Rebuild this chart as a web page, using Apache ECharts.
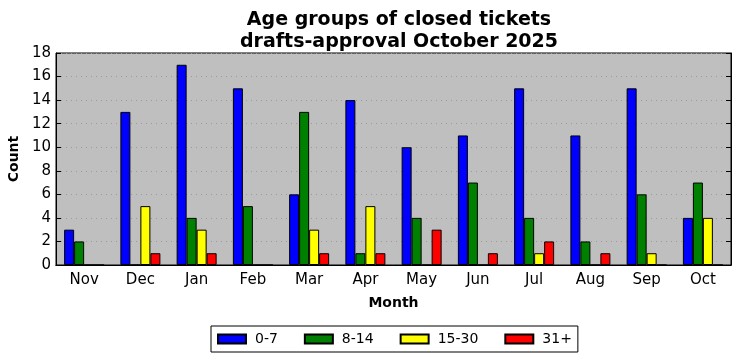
<!DOCTYPE html>
<html><head><meta charset="utf-8">
<script src="https://cdn.jsdelivr.net/npm/echarts@6/dist/echarts.min.js"></script>
<style>html,body{margin:0;padding:0;background:#fff}#c{width:741px;height:361px}</style>
</head><body><div id="c"></div>
<script>
const months = ['Nov','Dec','Jan','Feb','Mar','Apr','May','Jun','Jul','Aug','Sep','Oct'];
const s0_7   = [3,13,17,15,6,14,10,11,15,11,15,4];
const s8_14  = [2,0,4,5,13,1,4,7,4,2,6,7];
const s15_30 = [0,5,3,0,3,5,0,0,1,0,1,4];
const s31    = [0,1,1,0,1,1,3,1,2,1,0,0];
const seriesNames = ['0-7','8-14','15-30','31+'];
const colors = ['#0000ff','#008000','#ffff00','#ff0000'];
const yTicks = {min:0, max:18, interval:2};

const font = 'DejaVu Sans';
const chart = echarts.init(document.getElementById('c'), null, {renderer:'canvas'});
const data = [s0_7, s8_14, s15_30, s31];
chart.setOption({
  animation:false,
  backgroundColor:'#ffffff',
  title:{
    text:'Age groups of closed tickets\ndrafts-approval October 2025',
    left:394, top:4, textAlign:'center',
    textStyle:{fontFamily:font, fontSize:19, fontWeight:'bold', color:'#000', lineHeight:22}
  },
  legend:{
    data:seriesNames, left:211, top:326,
    itemWidth:28, itemHeight:9, itemGap:26,
    borderColor:'#000', borderWidth:1, padding:[6,6,6,6],
    icon:'rect',
    textStyle:{fontFamily:font, fontSize:14, color:'#000', padding:[0,0,0,4]}
  },
  grid:{left:56, right:10, top:53, bottom:96, outerBoundsMode:'none', containLabel:false, show:true, backgroundColor:'#bfbfbf', borderColor:'#000', borderWidth:1},
  xAxis:[{
    type:'category', data:months, position:'bottom',
    name:'Month', nameLocation:'middle', nameGap:31,
    nameTextStyle:{fontFamily:font, fontSize:14, fontWeight:'bold', color:'#000'},
    axisLine:{lineStyle:{color:'#000'}},
    axisTick:{inside:true, alignWithLabel:true, length:5, lineStyle:{color:'#000'}},
    axisLabel:{fontFamily:font, fontSize:15, color:'#000', margin:8}
  },{
    type:'category', data:months, position:'top',
    axisLine:{lineStyle:{color:'#000'}},
    axisTick:{inside:true, alignWithLabel:true, length:5, lineStyle:{color:'#000'}},
    axisLabel:{show:false}
  }],
  yAxis:[{
    type:'value', min:yTicks.min, max:yTicks.max, interval:yTicks.interval,
    name:'Count', nameLocation:'middle', nameGap:30, nameRotate:90,
    nameTextStyle:{fontFamily:font, fontSize:14, fontWeight:'bold', color:'#000'},
    axisLine:{show:true, lineStyle:{color:'#000'}},
    axisTick:{show:true, inside:true, length:5, lineStyle:{color:'#000'}},
    axisLabel:{fontFamily:font, fontSize:15, color:'#000', margin:5},
    splitLine:{show:true, lineStyle:{color:'#999', type:[1,4], width:1}}
  },{
    type:'value', min:yTicks.min, max:yTicks.max, interval:yTicks.interval, position:'right',
    axisLine:{show:true, lineStyle:{color:'#000'}},
    axisTick:{show:true, inside:true, length:5, lineStyle:{color:'#000'}},
    axisLabel:{show:false}, splitLine:{show:false}
  }],
  series: seriesNames.map((n,i)=>({
    name:n, type:'bar', data:data[i], xAxisIndex:0, yAxisIndex:0,
    barWidth:10, barGap:'0%',
    itemStyle:{color:colors[i], borderColor:'#000', borderWidth:1}
  }))
});
</script></body></html>
